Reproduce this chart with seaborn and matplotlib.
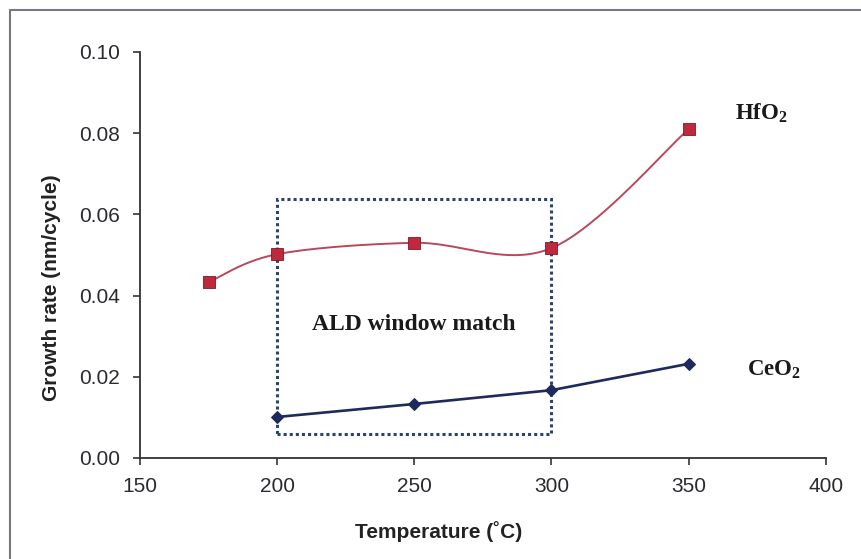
import numpy as np
import pandas as pd
import matplotlib
matplotlib.use("Agg")
import matplotlib.pyplot as plt
import seaborn as sns
from matplotlib.lines import Line2D
from matplotlib.patches import Rectangle

# ---- data ----
hfo2_temp = [175, 200, 250, 300, 350]
hfo2_rate = [0.0433, 0.0502, 0.0530, 0.0517, 0.0810]
ceo2_temp = [200, 250, 300, 350]
ceo2_rate = [0.0101, 0.0133, 0.0167, 0.0232]
window_temp = [200, 300]
window_rate = [0.0059, 0.0638]
x_ticks = [150, 200, 250, 300, 350, 400]
y_ticks = [0.00, 0.02, 0.04, 0.06, 0.08, 0.10]

sns.set_style("white")
plt.rcParams['font.family'] = ['Liberation Sans', 'DejaVu Sans']
plt.rcParams['mathtext.fontset'] = 'custom'
plt.rcParams['mathtext.rm'] = 'Liberation Serif'
plt.rcParams['mathtext.bf'] = 'Liberation Serif:bold'

def smooth(xs, ys, n=40):
    # Excel-style smoothed line (Bezier through the points)
    P = np.column_stack([xs, ys]).astype(float)
    out = []
    for i in range(len(P) - 1):
        p0 = P[i - 1] if i > 0 else P[i]
        p1, p2 = P[i], P[i + 1]
        p3 = P[i + 2] if i + 2 < len(P) else P[i + 1]
        c1 = p1 + (p2 - p0) / 6.0
        c2 = p2 - (p3 - p1) / 6.0
        t = np.linspace(0, 1, n)[:, None]
        seg = (1 - t) ** 3 * p1 + 3 * (1 - t) ** 2 * t * c1 + 3 * (1 - t) * t ** 2 * c2 + t ** 3 * p2
        out.append(seg if i == 0 else seg[1:])
    return np.vstack(out)

fig = plt.figure(figsize=(8.62, 5.59), dpi=100)
ax = fig.add_axes([0.1624, 0.1807, 0.7956, 0.7263])

hf_curve = smooth(hfo2_temp, hfo2_rate)
df_curve = pd.DataFrame({"T": hf_curve[:, 0], "r": hf_curve[:, 1]})
sns.lineplot(data=df_curve, x="T", y="r", ax=ax, color="#b8485a", linewidth=1.4,
             sort=False, estimator=None)
sns.scatterplot(x=hfo2_temp, y=hfo2_rate, ax=ax, marker="s", s=70, color="#c0283e",
                edgecolor="#7a1a2a", linewidth=0.6, zorder=5)

sns.lineplot(x=ceo2_temp, y=ceo2_rate, ax=ax, color="#1e2a5c", linewidth=1.9,
             marker="D", markersize=6, markeredgecolor="#1e2a5c", zorder=4)

rect = Rectangle((window_temp[0], window_rate[0]), window_temp[1] - window_temp[0],
                 window_rate[1] - window_rate[0], fill=False, edgecolor="#2a4470",
                 linestyle=(0, (1, 1)), linewidth=2.2, zorder=3)
ax.add_patch(rect)

ax.set_xlim(150, 400)
ax.set_ylim(0, 0.10)
ax.set_xticks(x_ticks)
ax.set_yticks(y_ticks)
ax.set_xticklabels([str(v) for v in x_ticks])
ax.set_yticklabels([f"{v:.2f}" for v in y_ticks])
ax.tick_params(axis="both", direction="out", length=5, width=1.2, colors="#333333",
               labelsize=15, labelcolor="#2a2a33", bottom=True, left=True)
ax.tick_params(axis="x", pad=9)
ax.tick_params(axis="y", pad=9.5)
for s in ["top", "right"]:
    ax.spines[s].set_visible(False)
for s in ["left", "bottom"]:
    ax.spines[s].set_color("#333333")
    ax.spines[s].set_linewidth(1.3)

ax.set_xlabel("Temperature (˚C)", fontsize=15, fontweight="bold", color="#222222")
ax.set_ylabel("Growth rate (nm/cycle)", fontsize=15, fontweight="bold", color="#222222")
ax.xaxis.set_label_coords(0.436, -0.155)
ax.yaxis.set_label_coords(-0.115, 0.419)

serif = ['Liberation Serif', 'DejaVu Serif']
ax.text(366.8, 0.0850, "HfO$_\\mathbf{2}$", family=serif, fontsize=16.5, fontweight="bold",
        color="#1a1a1a", ha="left", va="center")
ax.text(371.2, 0.0217, "CeO$_\\mathbf{2}$", family=serif, fontsize=16.5, fontweight="bold",
        color="#1a1a1a", ha="left", va="center")
ax.text(250, 0.0328, "ALD window match", family=serif, fontsize=17, fontweight="bold",
        color="#1a1a1a", ha="center", va="center")

# outer frame (top and left edges visible)
fig.add_artist(Line2D([10 / 862, 10 / 862], [0, 1 - 10 / 559], transform=fig.transFigure,
                      color="#777777", linewidth=1.5))
fig.add_artist(Line2D([10 / 862, 1], [1 - 10 / 559, 1 - 10 / 559], transform=fig.transFigure,
                      color="#777788", linewidth=1.5))

fig.savefig("out.png", dpi=100)
